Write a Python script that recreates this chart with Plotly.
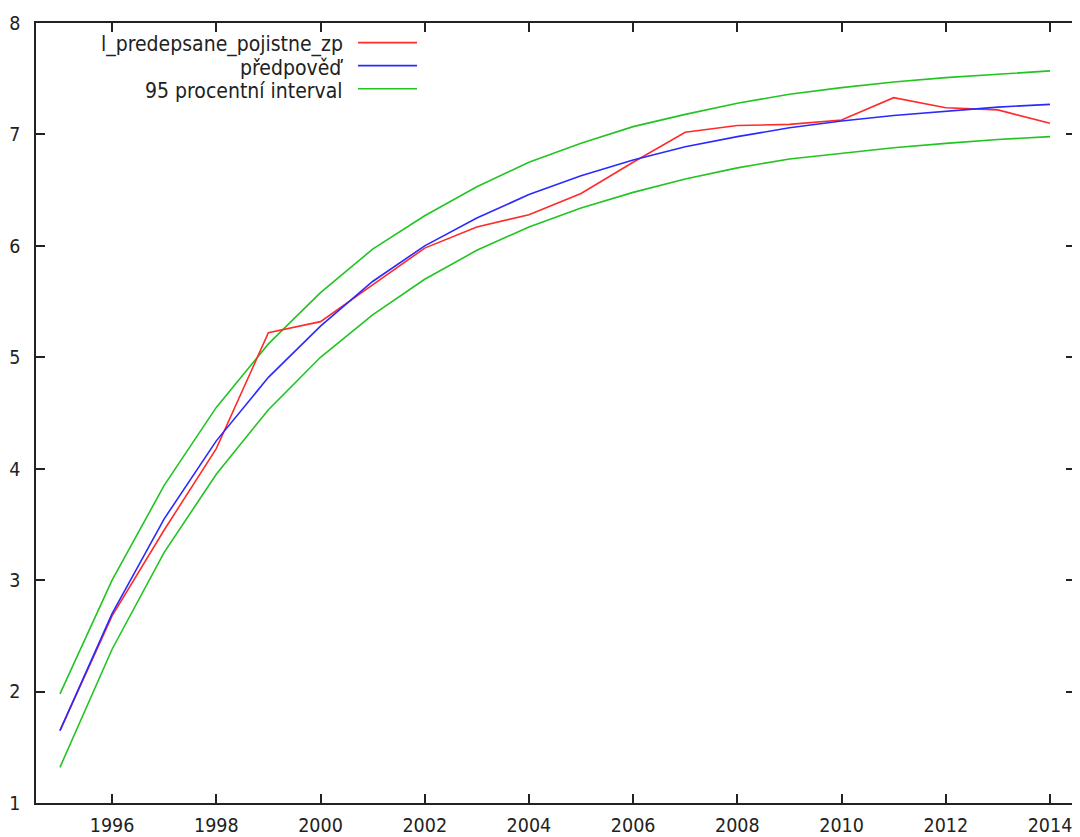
import plotly.graph_objects as go

years = list(range(1995, 2015))
actual = [1.65, 2.68, 3.45, 4.18, 5.22, 5.32, 5.65, 5.98, 6.17, 6.28, 6.47, 6.75, 7.02, 7.08, 7.09, 7.13, 7.33, 7.24, 7.22, 7.10]
forecast = [1.65, 2.70, 3.55, 4.25, 4.82, 5.28, 5.68, 6.00, 6.25, 6.46, 6.63, 6.77, 6.89, 6.98, 7.06, 7.12, 7.17, 7.21, 7.245, 7.27]
upper = [1.98, 3.00, 3.85, 4.55, 5.12, 5.58, 5.97, 6.27, 6.53, 6.75, 6.92, 7.07, 7.18, 7.28, 7.36, 7.42, 7.47, 7.51, 7.54, 7.57]
lower = [1.32, 2.38, 3.25, 3.95, 4.53, 5.00, 5.38, 5.70, 5.96, 6.17, 6.34, 6.48, 6.60, 6.70, 6.78, 6.83, 6.88, 6.92, 6.955, 6.98]

series_names = ["l_predepsane_pojistne_zp", "předpověď", "95 procentní interval"]
red, blue, green = "#ff2a2a", "#2a2aff", "#22c422"

fig = go.Figure()
fig.add_trace(go.Scatter(x=years, y=upper, mode="lines", line=dict(color=green, width=1.6), name=series_names[2]))
fig.add_trace(go.Scatter(x=years, y=lower, mode="lines", line=dict(color=green, width=1.6), showlegend=False))
fig.add_trace(go.Scatter(x=years, y=actual, mode="lines", line=dict(color=red, width=1.6), name=series_names[0]))
fig.add_trace(go.Scatter(x=years, y=forecast, mode="lines", line=dict(color=blue, width=1.6), name=series_names[1]))

fam = "DejaVu Sans Condensed, DejaVu Sans, sans-serif"
tick_font = dict(family=fam, size=19.5, color="#222")
leg_font = dict(family=fam, size=21, color="#222")

# gnuplot-style legend: text right-aligned, line sample on the right
leg_y = [0.9718, 0.9423, 0.9128]
leg_cols = [red, blue, green]
for name, yy, col in zip(series_names, leg_y, leg_cols):
    fig.add_annotation(x=0.2974, y=yy, xref="paper", yref="paper", text=name, showarrow=False,
                       xanchor="right", yanchor="middle", font=leg_font)
    fig.add_shape(type="line", xref="paper", yref="paper", x0=0.3099, x1=0.3667, y0=yy + 0.003, y1=yy + 0.003,
                  line=dict(color=col, width=1.6))

axis_common = dict(showgrid=False, zeroline=False, showline=True, linecolor="#222", linewidth=1.5,
                   mirror="ticks", ticks="inside", ticklen=9, tickwidth=1.5, tickcolor="#222",
                   tickfont=tick_font)
fig.update_layout(
    width=1072, height=829,
    margin=dict(l=28, r=5, t=15, b=34, autoexpand=False),
    plot_bgcolor="white", paper_bgcolor="white",
    showlegend=False,
    xaxis=dict(range=[1994.54, 2014.48], tickmode="array", tickvals=list(range(1996, 2015, 2)),
               ticklabelstandoff=4, **axis_common),
    yaxis=dict(range=[1, 8], tickmode="array", tickvals=list(range(1, 9)),
               ticklabelstandoff=10, **axis_common),
)
fig.write_html("out.html")
